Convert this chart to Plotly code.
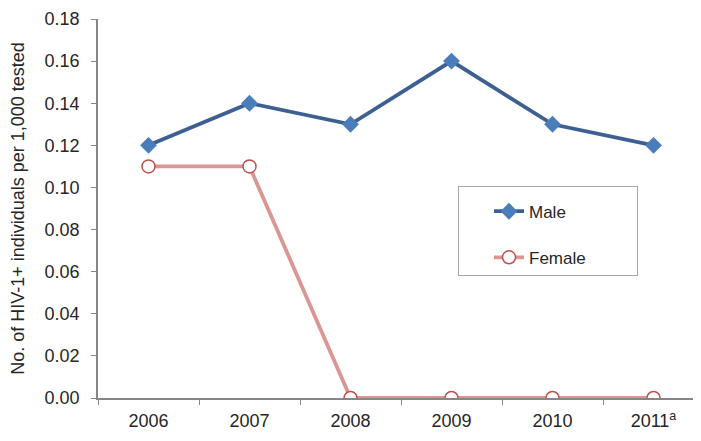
import plotly.graph_objects as go

years = ["2006", "2007", "2008", "2009", "2010", "2011"]
year_labels = ["2006", "2007", "2008", "2009", "2010", "2011<sup>a</sup>"]
male = [0.12, 0.14, 0.13, 0.16, 0.13, 0.12]
female = [0.11, 0.11, 0.00, 0.00, 0.00, 0.00]
y_ticks = [0.00, 0.02, 0.04, 0.06, 0.08, 0.10, 0.12, 0.14, 0.16, 0.18]

# the page body adds an 8px offset, so the figure is 8px smaller and margins shifted
fig = go.Figure()

fig.add_trace(go.Scatter(
    x=years, y=male, name="Male" + "&nbsp;" * 14,
    mode="lines+markers",
    line=dict(color="#3D5F92", width=3.8),
    marker=dict(symbol="diamond", size=13, color="#4A7EBB"),
    legendgroup="m",
))
fig.add_trace(go.Scatter(
    x=years, y=female, name="Female", mode="lines+markers",
    line=dict(color="#D99694", width=3.8),
    marker=dict(symbol="circle", size=13, color="white",
                line=dict(color="#C0504D", width=1.5)),
    legendgroup="f",
))

fig.update_layout(
    width=693, height=433,
    margin=dict(l=90, r=0, t=11, b=43),
    paper_bgcolor="white", plot_bgcolor="white",
    font=dict(family="Liberation Sans, Arial, sans-serif", size=18, color="#262626"),
    showlegend=True,
    legend=dict(
        x=0.597, y=0.559, xanchor="left", yanchor="top",
        bordercolor="#A6A6A6", borderwidth=1, bgcolor="white",
        font=dict(size=17), tracegroupgap=21, indentation=30,
        traceorder="grouped",
        title=dict(text="&nbsp;", font=dict(size=5)),
    ),
    xaxis=dict(
        type="category", range=[-0.5, 5.47], automargin=False,
        tickvals=years, ticktext=year_labels, tickfont=dict(size=18),
        tickson="boundaries", ticks="outside", ticklen=5, tickcolor="#868686",
        ticklabelstandoff=6,
        showline=True, linecolor="#868686", linewidth=1.5,
        showgrid=False, zeroline=False,
    ),
    yaxis=dict(
        range=[0, 0.18], tickvals=y_ticks, tickformat=".2f", automargin=False,
        tickfont=dict(size=18), ticklabelstandoff=8,
        ticks="outside", ticklen=5, tickcolor="#868686",
        showline=True, linecolor="#868686", linewidth=1.5,
        showgrid=False, zeroline=False,
        title=dict(text="No. of HIV-1+ individuals per 1,000 tested",
                   font=dict(size=18), standoff=20),
    ),
)

fig.write_html("out.html")
